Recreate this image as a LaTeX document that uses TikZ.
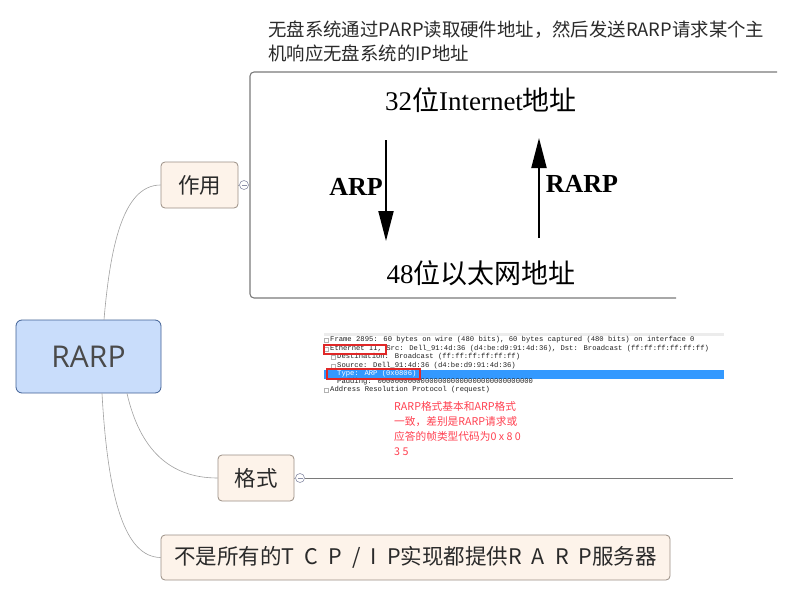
\documentclass[tikz,border=0pt]{standalone}
\usepackage{fontspec}
\setmainfont{Noto Sans CJK SC}
\newfontfamily\latinSans{Open Sans}
\newfontfamily\latinSerif{Liberation Serif}
\newfontfamily\wsMono{Liberation Mono}
\usetikzlibrary{arrows.meta}

\begin{document}
\begin{tikzpicture}[x=1pt, y=-1pt,
    rootbox/.style={draw=rootBorder, fill=rootFill, rounded corners=6pt, line width=0.8pt,
        minimum width=145pt, minimum height=73pt, text=rootText, inner sep=0pt},
    topicbox/.style={draw=topicBorder, fill=topicFill, rounded corners=4pt, line width=0.8pt,
        minimum height=46pt, inner sep=0pt, text=topicText, font=\fontsize{21.5}{25}\selectfont},
    branch/.style={draw=branchColour, line width=0.6pt},
    collapse/.style={circle, draw=dotColour, fill=white, minimum size=9pt, inner sep=0pt, line width=0.6pt},
    bigarrow/.style={line width=2pt, -{Triangle[width=15pt,length=30pt]}},
    wsline/.style={anchor=west, inner sep=0pt, font=\wsMono\fontsize{7.2}{8}\selectfont, text=wsText}]
    \def\wsLeft{324}
    \def\wsRight{724}
    \def\gap{\hspace{0.47em}}

    \definecolor{rootBorder}{HTML}{3F5F94}
    \definecolor{rootFill}{HTML}{C9DDFB}
    \definecolor{rootText}{HTML}{4A4A4A}
    \definecolor{topicBorder}{HTML}{9A8E84}
    \definecolor{topicFill}{HTML}{FDF3EA}
    \definecolor{topicText}{HTML}{2A2A2A}
    \definecolor{branchColour}{HTML}{A0A0A0}
    \definecolor{dotColour}{HTML}{8C90A8}
    \definecolor{boxColour}{HTML}{7A7A7A}
    \definecolor{wsText}{HTML}{202020}
    \definecolor{wsBlue}{HTML}{3399FF}
    \definecolor{wsRed}{HTML}{E02828}
    \definecolor{noteRed}{HTML}{FF4050}

    \useasboundingbox (0,0) rectangle (793,597);

    % Draw topics
    \node[rootbox] (root) at (88.5,356.5) {\latinSans\fontsize{30}{36}\selectfont RARP};
    \node[topicbox, minimum width=77pt] (zuoyong) at (199.5,185) {作用};
    \node[topicbox, minimum width=76pt] (geshi) at (256,478) {格式};
    \node[topicbox, minimum width=509pt, minimum height=45pt] (noServer) at (415.5,557.5)
        {不是所有的T\gap C\gap P\gap /\gap I\gap P实现都提供R\gap A\gap R\gap P服务器};

    % Draw branches
    \draw[branch] ([xshift=15.5pt]root.north) .. controls (110,250) and (122,185) .. (zuoyong.west);
    \draw[branch] ([xshift=38.5pt]root.south) .. controls (140,450) and (170,478) .. (geshi.west);
    \draw[branch] ([xshift=13.5pt]root.south) .. controls (108,500) and (125,557) .. (noServer.west);

    % Collapse markers
    \node[collapse] (zuoyongDot) at (244,185) {};
    \node[collapse] (geshiDot) at (300,478) {};
    \draw[branch] (zuoyong.east) -- (zuoyongDot);
    \draw[branch] (geshi.east) -- (geshiDot);
    \foreach \d in {zuoyongDot,geshiDot}
        \draw[dotColour, line width=0.6pt] ([xshift=-2.5pt]\d.center) -- ([xshift=2.5pt]\d.center);
    \coordinate (geshiEnd) at (733,478);
    \draw[boxColour, line width=1pt] (geshiDot) -- (geshiEnd);

    % Note above the picture
    \node[anchor=north west, align=left, inner sep=0pt, text=topicText, font=\fontsize{18.4}{24}\selectfont] (zuoyongNote) at (268,21)
        {无盘系统通过PARP读取硬件地址，然后发送RARP请求某个主\\机响应无盘系统的IP地址};

    % Draw picture frame
    \draw[boxColour, line width=1.1pt, rounded corners=4pt] (777,72) -- (250,72) -- (250,298) -- (676,298);

    % Address conversion
    \node[font=\fontsize{27}{30}\selectfont, text=black] (ipAddr) at (481,100)
        {\latinSerif 32\normalfont 位\latinSerif Internet\normalfont 地址};
    \node[font=\fontsize{27}{30}\selectfont, text=black] (ethAddr) at (481,273)
        {\latinSerif 48\normalfont 位以太网地址};
    \coordinate (arpTop) at (386,140);
    \coordinate (arpTip) at (386,241);
    \coordinate (rarpBottom) at (539,238);
    \coordinate (rarpTip) at (539,138);
    \draw[bigarrow] (arpTop) -- (arpTip);
    \draw[bigarrow] (rarpBottom) -- (rarpTip);
    \node[font=\latinSerif\bfseries\fontsize{26}{30}\selectfont] (arpLabel) at (356,187) {ARP};
    \node[font=\latinSerif\bfseries\fontsize{26}{30}\selectfont] (rarpLabel) at (582,184) {RARP};

    % Packet capture
    \fill[gray!15] (\wsLeft,333) rectangle (\wsRight,336);
    \fill[wsBlue] (\wsLeft,370) rectangle (\wsRight,379);
    \foreach \x/\y in {326/340, 326/349, 333/357, 333/366, 326/390}
        \draw[gray!60, line width=0.4pt] (\x-1.8,\y-1.8) rectangle (\x+1.8,\y+1.8);
    \node[wsline] (wsFrame) at (330,340) {Frame 2895: 60 bytes on wire (480 bits), 60 bytes captured (480 bits) on interface 0};
    \node[wsline] (wsEth) at (330,349) {Ethernet II, Src: Dell\_91:4d:36 (d4:be:d9:91:4d:36), Dst: Broadcast (ff:ff:ff:ff:ff:ff)};
    \node[wsline] (wsDst) at (337,357) {Destination: Broadcast (ff:ff:ff:ff:ff:ff)};
    \node[wsline] (wsSrc) at (337,366) {Source: Dell\_91:4d:36 (d4:be:d9:91:4d:36)};
    \node[wsline, text=white] (wsType) at (337,374) {Type: ARP (0x0806)};
    \node[wsline] (wsPad) at (337,382) {Padding: 000000000000000000000000000000000000};
    \node[wsline] (wsArp) at (330,390) {Address Resolution Protocol (request)};
    \draw[wsRed, line width=1.3pt] (324,345) rectangle (386,354);
    \draw[wsRed, line width=1.3pt] (327,369) rectangle (420,379);

    % Format note
    \node[anchor=north west, align=left, inner sep=0pt, text=noteRed, font=\fontsize{10.7}{15}\selectfont] (geshiNote) at (394,401)
        {RARP格式基本和ARP格式\\一致，差别是RARP请求或\\应答的帧类型代码为0 x 8 0\\3 5};

\end{tikzpicture}
\end{document}
